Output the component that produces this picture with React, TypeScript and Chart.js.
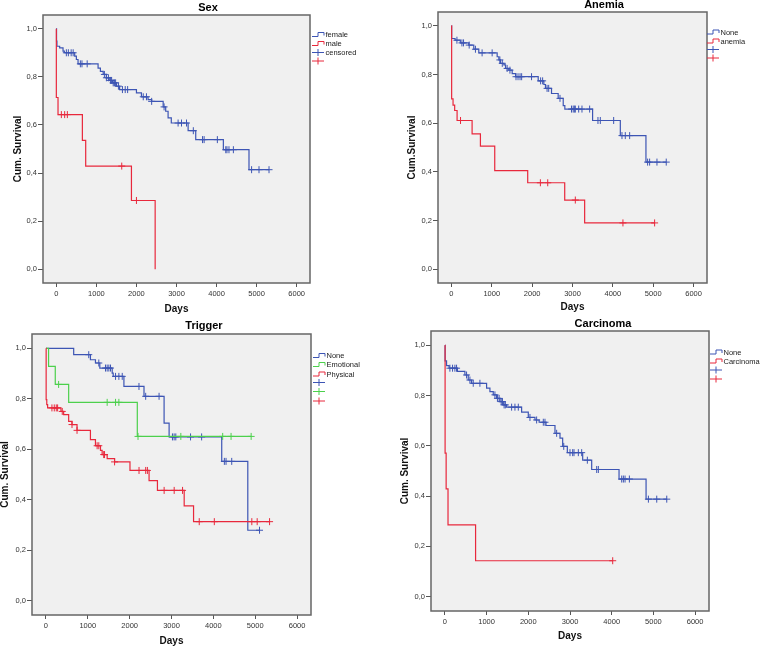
import React, { useEffect, useRef } from "react";
import { Chart, registerables } from "chart.js";
Chart.register(...registerables);

const W = 761;
const H = 647;
const FONT = 'Arial, "Liberation Sans", sans-serif';

const xTicks = [0, 1000, 2000, 3000, 4000, 5000, 6000];
const yTicks = [0, 0.2, 0.4, 0.6, 0.8, 1.0];
const xMin = -333;
const xMax = 6333;
const yMin = -0.057;
const yMax = 1.057;

const BLUE = "#3d55b4";
const RED = "#e8283c";
const GREEN = "#4cd04c";

// ---- Sex ----
const sexFemaleT = [0, 5, 15, 83, 167, 200, 458, 500, 542, 1042, 1100, 1170, 1250, 1320, 1400, 1500, 1580, 2000, 2125, 2290, 2380, 2667, 2730, 2790, 2870, 3290, 3480, 4170, 4810];
const sexFemaleS = [1, 0.948, 0.927, 0.92, 0.907, 0.9, 0.886, 0.872, 0.854, 0.836, 0.823, 0.81, 0.796, 0.785, 0.775, 0.761, 0.747, 0.733, 0.717, 0.705, 0.698, 0.675, 0.657, 0.629, 0.608, 0.576, 0.539, 0.497, 0.414];
const sexFemaleC = [250, 300, 370, 420, 600, 640, 770, 1200, 1250, 1300, 1350, 1380, 1420, 1450, 1480, 1550, 1650, 1720, 1780, 2170, 2250, 2380, 2690, 3040, 3125, 3250, 3420, 3650, 3690, 4020, 4230, 4260, 4310, 4420, 4875, 5060, 5310];
const sexMaleT = [0, 0, 42, 650, 733, 1875, 2467];
const sexMaleS = [1, 0.714, 0.643, 0.536, 0.429, 0.286, 0];
const sexMaleC = [125, 208, 275, 1633, 2000];

// ---- Anemia ----
const anNoneT = [0, 5, 90, 220, 430, 554, 678, 1133, 1175, 1215, 1300, 1340, 1420, 1505, 1590, 2150, 2290, 2330, 2480, 2645, 2770, 2810, 3498, 4185, 4820];
const anNoneS = [1, 0.948, 0.941, 0.93, 0.921, 0.904, 0.889, 0.873, 0.86, 0.846, 0.84, 0.825, 0.818, 0.804, 0.791, 0.774, 0.759, 0.743, 0.722, 0.702, 0.672, 0.658, 0.611, 0.549, 0.44];
const anNoneC = [136, 260, 300, 440, 595, 760, 1009, 1200, 1260, 1380, 1450, 1600, 1650, 1700, 1740, 1985, 2210, 2260, 2370, 2410, 2690, 2975, 3017, 3046, 3070, 3153, 3235, 3425, 3631, 3689, 4020, 4226, 4308, 4416, 4861, 4911, 5093, 5323];
const anAnemiaT = [0, 5, 40, 80, 140, 512, 718, 1073, 1890, 2807, 3301];
const anAnemiaS = [1, 0.7, 0.674, 0.652, 0.611, 0.556, 0.506, 0.405, 0.355, 0.284, 0.19];
const anAnemiaC = [225, 2204, 2386, 3070, 4250, 5035];

// ---- Trigger ----
const trNoneT = [0, 663, 1063, 1183, 1287, 1583, 1607, 1863, 2343, 2823, 2943, 4200, 4823];
const trNoneS = [1, 0.975, 0.955, 0.942, 0.922, 0.902, 0.889, 0.849, 0.81, 0.704, 0.649, 0.552, 0.279];
const trNoneC = [1023, 1263, 1423, 1463, 1503, 1543, 1663, 1743, 1823, 2223, 2383, 2703, 3023, 3063, 3103, 3455, 3720, 4263, 4303, 4439, 5103];
const trEmoT = [0, 63, 223, 543, 2183];
const trEmoS = [1, 0.929, 0.857, 0.786, 0.651];
const trEmoC = [303, 1463, 1663, 1743, 2200, 3223, 4223, 4423, 4903];
const trPhysT = [0, 5, 20, 40, 359, 423, 543, 623, 743, 1063, 1183, 1303, 1343, 1463, 1640, 2008, 2464, 2664, 3303, 3527];
const trPhysS = [1, 0.797, 0.777, 0.764, 0.75, 0.737, 0.711, 0.698, 0.675, 0.638, 0.614, 0.596, 0.579, 0.563, 0.55, 0.516, 0.476, 0.437, 0.376, 0.313];
const trPhysC = [143, 199, 247, 279, 390, 623, 743, 1223, 1263, 1380, 1400, 1640, 2224, 2384, 2424, 2824, 3064, 3264, 3663, 4023, 4919, 5047, 5343];

// ---- Carcinoma ----
const caNoneT = [0, 5, 40, 100, 300, 480, 560, 640, 1000, 1080, 1160, 1240, 1320, 1400, 1480, 1840, 2000, 2160, 2260, 2424, 2640, 2760, 2824, 2936, 3304, 3520, 4176, 4824];
const caNoneS = [1, 0.938, 0.919, 0.909, 0.896, 0.882, 0.862, 0.849, 0.83, 0.816, 0.803, 0.789, 0.776, 0.763, 0.754, 0.734, 0.713, 0.703, 0.694, 0.681, 0.65, 0.631, 0.598, 0.573, 0.543, 0.506, 0.468, 0.388];
const caNoneC = [120, 184, 240, 280, 520, 600, 680, 840, 1200, 1260, 1300, 1350, 1380, 1420, 1450, 1600, 1680, 1760, 2040, 2200, 2360, 2400, 2680, 2850, 3000, 3064, 3096, 3200, 3280, 3416, 3640, 3680, 4240, 4280, 4320, 4424, 4880, 5080, 5320];
const caCarcT = [0, 5, 30, 75, 736];
const caCarcS = [1, 0.571, 0.429, 0.286, 0.143];
const caCarcC = [4024];

type Curve = { t: number[]; s: number[]; c: number[]; color: string };
type LegendItem = { label: string; color: string; kind: "step" | "cross" };
type Panel = {
  title: string;
  titlePos: [number, number];
  yLabel: string;
  box: [number, number, number, number];
  wy: number;
  hx: number;
  curves: Curve[];
  legend: LegendItem[];
  legendX: number;
  legendRows: number[];
};

const panels: Panel[] = [
  {
    title: "Sex",
    titlePos: [208, 8],
    yLabel: "Cum. Survival",
    box: [43, 15, 310, 283],
    wy: 31,
    hx: 32,
    curves: [
      { t: sexFemaleT, s: sexFemaleS, c: sexFemaleC, color: BLUE },
      { t: sexMaleT, s: sexMaleS, c: sexMaleC, color: RED },
    ],
    legend: [
      { label: "female", color: BLUE, kind: "step" },
      { label: "male", color: RED, kind: "step" },
      { label: "censored", color: BLUE, kind: "cross" },
      { label: "", color: RED, kind: "cross" },
    ],
    legendX: 312,
    legendRows: [34.5, 43.5, 52.5, 61],
  },
  {
    title: "Anemia",
    titlePos: [604, 5],
    yLabel: "Cum.Survival",
    box: [438, 12, 707, 283],
    wy: 32,
    hx: 30,
    curves: [
      { t: anNoneT, s: anNoneS, c: anNoneC, color: BLUE },
      { t: anAnemiaT, s: anAnemiaS, c: anAnemiaC, color: RED },
    ],
    legend: [
      { label: "None", color: BLUE, kind: "step" },
      { label: "anemia", color: RED, kind: "step" },
      { label: "", color: BLUE, kind: "cross" },
      { label: "", color: RED, kind: "cross" },
    ],
    legendX: 707,
    legendRows: [32, 41, 49.5, 58],
  },
  {
    title: "Trigger",
    titlePos: [204, 326],
    yLabel: "Cum. Survival",
    box: [32, 334, 311, 615],
    wy: 33,
    hx: 32,
    curves: [
      { t: trNoneT, s: trNoneS, c: trNoneC, color: BLUE },
      { t: trEmoT, s: trEmoS, c: trEmoC, color: GREEN },
      { t: trPhysT, s: trPhysS, c: trPhysC, color: RED },
    ],
    legend: [
      { label: "None", color: BLUE, kind: "step" },
      { label: "Emotional", color: GREEN, kind: "step" },
      { label: "Physical", color: RED, kind: "step" },
      { label: "", color: BLUE, kind: "cross" },
      { label: "", color: GREEN, kind: "cross" },
      { label: "", color: RED, kind: "cross" },
    ],
    legendX: 313,
    legendRows: [355.5, 364.5, 374, 382.5, 391.5, 401],
  },
  {
    title: "Carcinoma",
    titlePos: [603, 324],
    yLabel: "Cum. Survival",
    box: [431, 331, 709, 611],
    wy: 32,
    hx: 31,
    curves: [
      { t: caNoneT, s: caNoneS, c: caNoneC, color: BLUE },
      { t: caCarcT, s: caCarcS, c: caCarcC, color: RED },
    ],
    legend: [
      { label: "None", color: BLUE, kind: "step" },
      { label: "Carcinoma", color: RED, kind: "step" },
      { label: "", color: BLUE, kind: "cross" },
      { label: "", color: RED, kind: "cross" },
    ],
    legendX: 710,
    legendRows: [352, 361, 370, 379],
  },
];

function survAt(t: number[], s: number[], x: number) {
  let v = 1;
  for (let i = 0; i < t.length; i++) if (t[i] <= x) v = s[i];
  return v;
}

function PanelChart({ p }: { p: Panel }) {
  const ref = useRef<HTMLCanvasElement | null>(null);
  useEffect(() => {
    const canvas = ref.current;
    if (!canvas) return;
    const [L, T, R, B] = p.box;
    const datasets: any[] = [];
    p.curves.forEach((cv, k) => {
      const pts = cv.t.map((t, i) => ({ x: t, y: cv.s[i] }));
      const lastC = Math.max(...cv.c);
      const lastT = cv.t[cv.t.length - 1];
      if (lastC > lastT) pts.push({ x: lastC, y: cv.s[cv.s.length - 1] });
      datasets.push({
        data: pts,
        borderColor: cv.color,
        borderWidth: 1.2,
        pointRadius: 0,
        stepped: "before",
        fill: false,
        order: p.curves.length - k,
      });
      datasets.push({
        data: cv.c.map((x) => ({ x, y: survAt(cv.t, cv.s, x) })),
        showLine: false,
        pointStyle: "cross",
        pointRadius: 3.5,
        pointBorderWidth: 1,
        borderColor: cv.color,
        backgroundColor: cv.color,
        order: p.curves.length - k,
      });
    });

    const boxPlugin = {
      id: "boxPlugin",
      beforeDraw(chart: any) {
        const a = chart.chartArea;
        const ctx = chart.ctx;
        ctx.save();
        ctx.fillStyle = "#f0f0f0";
        ctx.fillRect(a.left, a.top, a.right - a.left, a.bottom - a.top);
        ctx.restore();
      },
      afterDraw(chart: any) {
        const a = chart.chartArea;
        const ctx = chart.ctx;
        ctx.save();
        ctx.strokeStyle = "#666";
        ctx.lineWidth = 1.5;
        ctx.strokeRect(a.left, a.top, a.right - a.left, a.bottom - a.top);
        // title
        ctx.fillStyle = "#000";
        ctx.font = `bold 11px ${FONT}`;
        ctx.textAlign = "center";
        ctx.textBaseline = "middle";
        ctx.fillText(p.title, p.titlePos[0], p.titlePos[1]);
        // legend
        ctx.font = `7.5px ${FONT}`;
        ctx.textAlign = "left";
        p.legend.forEach((it, i) => {
          const y = p.legendRows[i];
          const x0 = p.legendX;
          ctx.strokeStyle = it.color;
          ctx.lineWidth = 1;
          ctx.beginPath();
          if (it.kind === "step") {
            ctx.moveTo(x0, y + 2);
            ctx.lineTo(x0 + 6, y + 2);
            ctx.lineTo(x0 + 6, y - 2);
            ctx.lineTo(x0 + 12, y - 2);
            ctx.lineTo(x0 + 12, y + 1);
          } else {
            ctx.moveTo(x0, y);
            ctx.lineTo(x0 + 12, y);
            ctx.moveTo(x0 + 6, y - 3.5);
            ctx.lineTo(x0 + 6, y + 3.5);
          }
          ctx.stroke();
          if (it.label) {
            ctx.fillStyle = "#222";
            ctx.fillText(it.label, x0 + 13.5, y + 0.5);
          }
        });
        ctx.restore();
      },
    };

    const chart = new Chart(canvas, {
      type: "line",
      data: { datasets },
      options: {
        responsive: false,
        animation: false,
        devicePixelRatio: 1,
        events: [],
        layout: {
          padding: { left: L - p.wy, top: T, right: W - R, bottom: H - B - p.hx },
        },
        plugins: {
          legend: { display: false },
          tooltip: { enabled: false },
          title: { display: false },
        },
        scales: {
          x: {
            type: "linear",
            min: xMin,
            max: xMax,
            afterBuildTicks: (s: any) => {
              s.ticks = xTicks.map((v) => ({ value: v }));
            },
            afterFit: (s: any) => {
              s.height = p.hx;
            },
            grid: { drawOnChartArea: false, drawTicks: true, tickLength: 4, color: "#555" },
            border: { display: false },
            ticks: {
              autoSkip: false,
              maxRotation: 0,
              padding: 2,
              color: "#333",
              font: { family: FONT, size: 7.5 },
              callback: (v: any) => String(v),
            },
            title: {
              display: true,
              text: "Days",
              color: "#111",
              padding: 0,
              font: { family: FONT, size: 10, weight: "bold" },
            },
          },
          y: {
            type: "linear",
            min: yMin,
            max: yMax,
            afterBuildTicks: (s: any) => {
              s.ticks = yTicks.map((v) => ({ value: v }));
            },
            afterFit: (s: any) => {
              s.width = p.wy;
            },
            grid: { drawOnChartArea: false, drawTicks: true, tickLength: 5, color: "#555" },
            border: { display: false },
            ticks: {
              autoSkip: false,
              padding: 1,
              color: "#333",
              font: { family: FONT, size: 7.5 },
              callback: (v: any) => Number(v).toFixed(1).replace(".", ","),
            },
            title: {
              display: true,
              text: p.yLabel,
              color: "#111",
              padding: 0,
              font: { family: FONT, size: 10, weight: "bold" },
            },
          },
        },
      } as any,
      plugins: [boxPlugin],
    });
    return () => chart.destroy();
  }, [p]);
  return (
    <canvas
      ref={ref}
      width={W}
      height={H}
      style={{ position: "absolute", left: 0, top: 0, width: W, height: H }}
    />
  );
}

export default function App() {
  return (
    <div
      style={{
        position: "absolute",
        left: 0,
        top: 0,
        width: W,
        height: H,
        background: "#fff",
        overflow: "hidden",
      }}
    >
      {panels.map((p) => (
        <PanelChart key={p.title} p={p} />
      ))}
    </div>
  );
}
